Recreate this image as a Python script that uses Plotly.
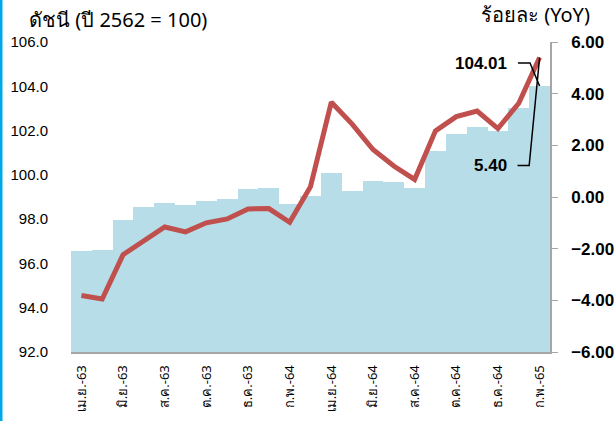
import plotly.graph_objects as go

months = ["เม.ย.-63", "พ.ค.-63", "มิ.ย.-63", "ก.ค.-63", "ส.ค.-63", "ก.ย.-63",
          "ต.ค.-63", "พ.ย.-63", "ธ.ค.-63", "ม.ค.-64", "ก.พ.-64", "มี.ค.-64",
          "เม.ย.-64", "พ.ค.-64", "มิ.ย.-64", "ก.ค.-64", "ส.ค.-64", "ก.ย.-64",
          "ต.ค.-64", "พ.ย.-64", "ธ.ค.-64", "ม.ค.-65", "ก.พ.-65"]
index_values = [96.54, 96.62, 97.98, 98.54, 98.74, 98.62, 98.80, 98.92, 99.34, 99.40,
                98.69, 99.04, 100.07, 99.29, 99.72, 99.67, 99.42, 101.08, 101.83,
                102.18, 101.98, 103.00, 104.01]
yoy_values = [-3.81, -3.95, -2.23, -1.72, -1.16, -1.35, -1.00, -0.85, -0.46, -0.45,
              -0.98, 0.40, 3.67, 2.82, 1.84, 1.20, 0.68, 2.56, 3.11, 3.33, 2.65,
              3.63, 5.40]
left_ticks = [92, 94, 96, 98, 100, 102, 104, 106]
right_ticks = [-6, -4, -2, 0, 2, 4, 6]

xs = list(range(len(months)))
last = xs[-1]

W, H = 616, 421
ml, mr, mt, mb = 71, 66, 42, 69
pw, ph = W - ml - mr, H - mt - mb
def px(xp):
    return (xp - ml) / pw
def py(yp):
    return 1 - (yp - mt) / ph

fig = go.Figure()
fig.add_trace(go.Bar(x=xs, y=index_values, marker=dict(color="#B7DDE8", line=dict(width=0)),
                     width=1.0, yaxis="y", hoverinfo="skip"))
fig.add_trace(go.Scatter(x=xs, y=yoy_values, mode="lines", yaxis="y2",
                         line=dict(color="#C0504D", width=5), hoverinfo="skip"))

txt_font = dict(family="Liberation Sans, Arial, sans-serif", size=17, color="#000000")

# leader lines
fig.add_shape(type="path", xref="x", yref="y",
              path=f"M {last-1.04},105.05 L {last-0.46},105.05 L {last},{index_values[-1]}",
              line=dict(color="black", width=1.5))
fig.add_shape(type="path", xref="x", yref="y2",
              path=f"M {last-1.06},1.22 L {last-0.5},1.22 L {last},{yoy_values[-1]}",
              line=dict(color="black", width=1.5))

fig.add_annotation(x=last - 1.48, y=105.05, xref="x", yref="y", text=f"<b>{index_values[-1]:.2f}</b>",
                   showarrow=False, xanchor="right", yanchor="middle", font=txt_font)
fig.add_annotation(x=last - 1.48, y=1.22, xref="x", yref="y2", text=f"<b>{yoy_values[-1]:.2f}</b>",
                   showarrow=False, xanchor="right", yanchor="middle", font=txt_font)
fig.add_annotation(x=px(27), y=py(20), xref="paper", yref="paper", text="ดัชนี (ปี 2562 = 100)",
                   showarrow=False, xanchor="left", yanchor="middle",
                   font=dict(family="Noto Sans, sans-serif", size=20, color="#000000"))
fig.add_annotation(x=px(535), y=py(15), xref="paper", yref="paper", text="ร้อยละ (YoY)",
                   showarrow=False, xanchor="center", yanchor="middle",
                   font=dict(family="Noto Sans, sans-serif", size=20, color="#000000"))

# left blue border
fig.add_shape(type="rect", xref="paper", yref="paper", x0=px(0), x1=px(2.5), y0=py(H), y1=py(0),
              fillcolor="#00A8E8", line=dict(width=0), layer="above")

fig.update_layout(
    width=W, height=H,
    margin=dict(l=ml, r=mr, t=mt, b=mb, pad=0, autoexpand=False),
    paper_bgcolor="white", plot_bgcolor="white",
    showlegend=False, bargap=0,
    xaxis=dict(range=[-0.5, last + 0.5], tickvals=xs[::2], ticktext=months[::2],
               tickangle=-90, showgrid=False, zeroline=False, showline=True, automargin=False,
               linecolor="#A6A6A6", linewidth=2, ticks="", ticklabelstandoff=6,
               tickfont=dict(family="Noto Sans, sans-serif", size=13, color="#000000")),
    yaxis=dict(range=[92, 106], tickvals=left_ticks, tickformat=".1f", showgrid=False,
               zeroline=False, showline=False, ticks="", ticklabelstandoff=22, automargin=False,
               tickfont=dict(family="Liberation Sans, Arial, sans-serif", size=15, color="#000000")),
    yaxis2=dict(range=[-6, 6], tickvals=right_ticks, tickformat=".2f", overlaying="y", side="right",
                showgrid=False, zeroline=False, showline=True, linecolor="#A6A6A6", linewidth=1.5,
                ticks="outside", ticklen=6, tickcolor="#A6A6A6", ticklabelstandoff=10,
                automargin=False,
                tickfont=dict(family="Liberation Sans, Arial, sans-serif", size=17, color="#000000",
                              weight="bold")),
)

fig.write_html("out.html", config={"displayModeBar": False},
               post_script="document.body.style.margin='0';document.body.style.overflow='hidden';")
